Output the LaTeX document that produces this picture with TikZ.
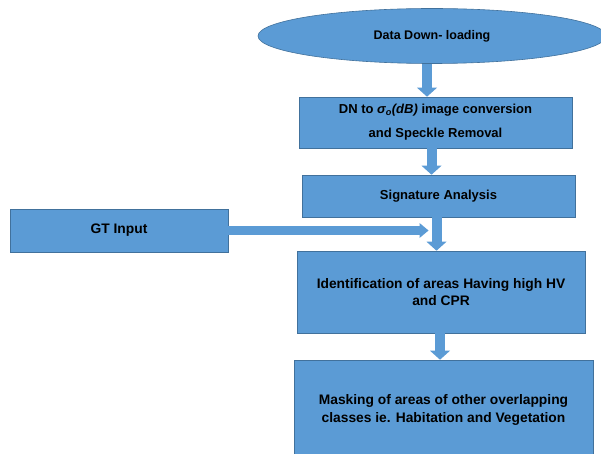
\documentclass[tikz,border=0pt]{standalone}
\usepackage{fontspec}
\setmainfont{Liberation Sans}
\usetikzlibrary{shapes.geometric,arrows.meta}
\definecolor{boxblue}{RGB}{91,155,213}
\definecolor{edgeblue}{RGB}{65,113,156}

\begin{document}
\begin{tikzpicture}[x=1pt,y=-1pt,
    box/.style={rectangle,fill=boxblue,draw=edgeblue,line width=0.6pt,inner sep=0pt,
      align=center,font=\fontsize{13}{17}\selectfont\bfseries},
    bigtext/.style={font=\fontsize{13.8}{17.5}\selectfont\bfseries},
    blk/.style={boxblue,line width=10pt,-{Triangle[width=20pt,length=9pt,line width=0pt]}}]
    \useasboundingbox (0,0) rectangle (601,454);
    \clip (0,0) rectangle (601,454);
    \fill[white] (0,0) rectangle (601,454);

    \node[box,ellipse,minimum width=348pt,minimum height=55pt,font=\fontsize{12.5}{17}\selectfont\bfseries]
      (dl) at (432,36) {Data Down- loading};
    \node[box,minimum width=273pt,minimum height=51pt] (conv) at (435.5,122.5)
      {DN to \textit{σ\textsubscript{o}(dB)} image conversion\\[7pt]and Speckle Removal};
    \node[box,minimum width=273pt,minimum height=42pt] (sig) at (438.5,196) {Signature Analysis};
    \node[box,bigtext,minimum width=218pt,minimum height=43pt] (gt) at (119,230.5) {GT Input};
    \node[box,bigtext,minimum width=288pt,minimum height=82pt] (ident) at (441,292)
      {Identification of areas Having high HV\\and CPR};
    \node[box,bigtext,minimum width=299pt,minimum height=100pt] (mask) at (443.5,410)
      {Masking of areas of other overlapping\\classes ie. Habitation and Vegetation};

    \coordinate (join) at ([xshift=-10pt]sig.south |- gt.east);

    \draw[blk] ([xshift=-5pt]dl.south) -- ([xshift=-5pt]dl.south |- conv.north);
    \draw[blk] ([xshift=-4pt]conv.south) -- ([xshift=-4pt]conv.south |- sig.north);
    \draw[blk] ([xshift=-2pt]sig.south) -- ([xshift=-2pt]sig.south |- ident.north);
    \draw[blk,line width=9pt,-{Triangle[width=15pt,length=9pt,line width=0pt]}] (gt.east) -- (join);
    \draw[blk] ([xshift=-1pt]ident.south) -- ([xshift=-1pt]ident.south |- mask.north);
\end{tikzpicture}
\end{document}
